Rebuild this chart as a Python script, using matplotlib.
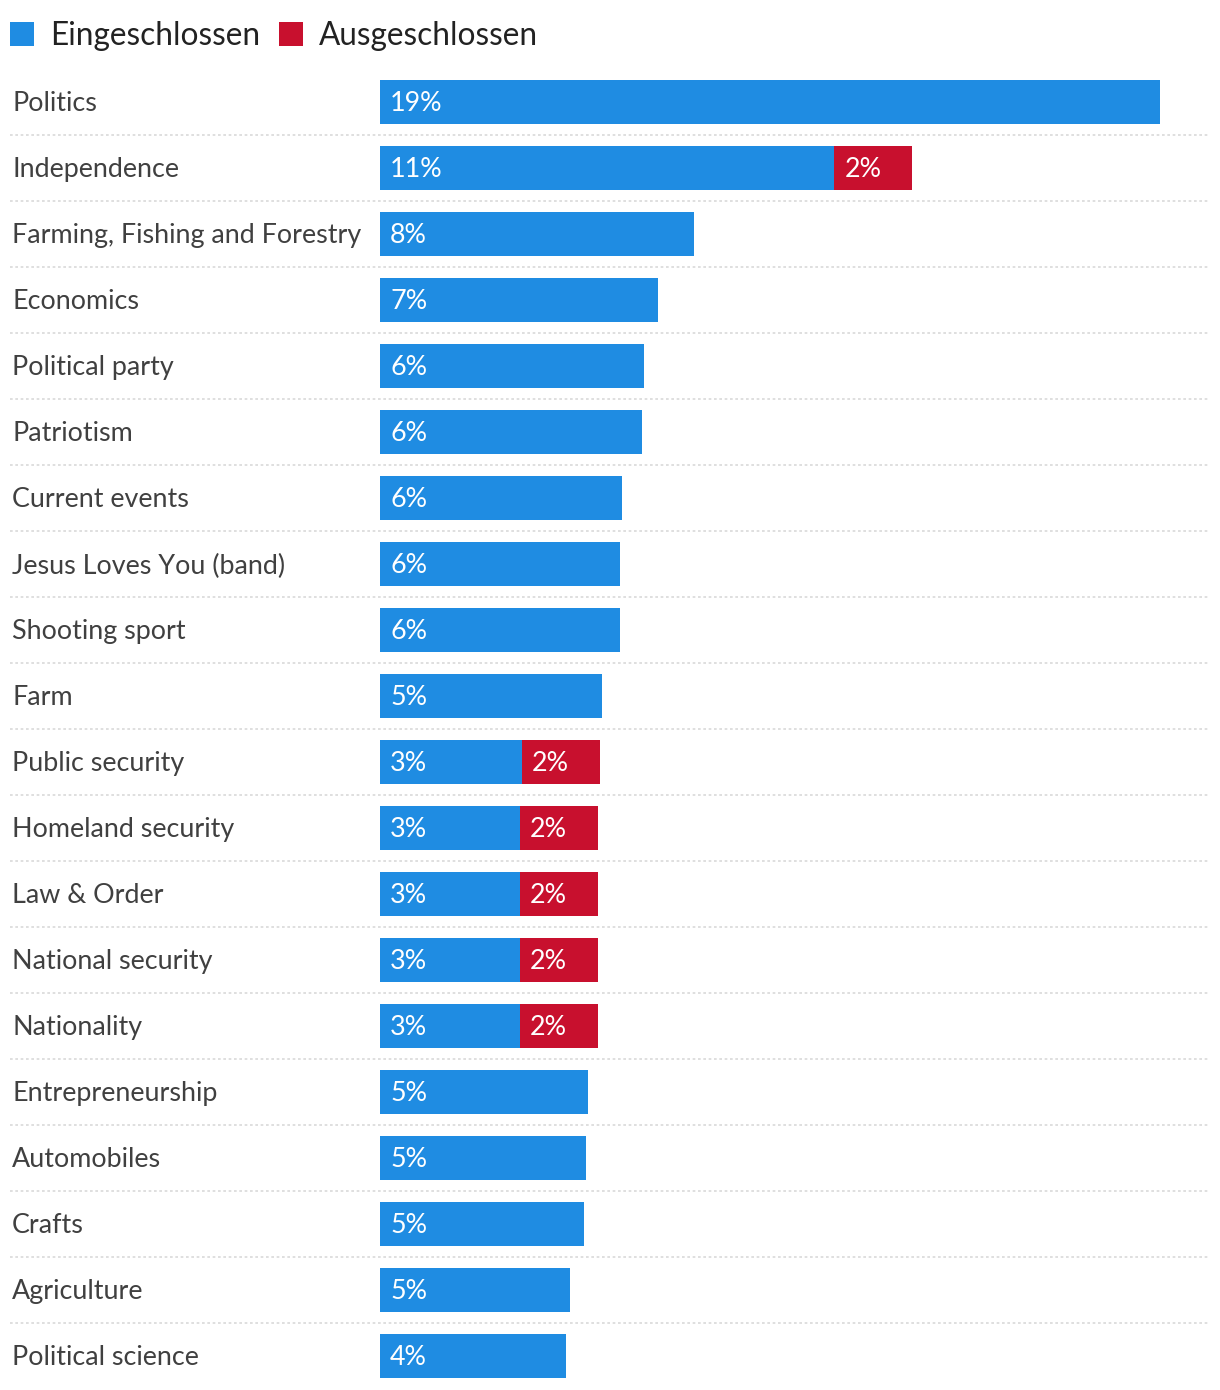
import matplotlib
matplotlib.use("Agg")
import matplotlib.pyplot as plt
import matplotlib.patches as patches
from matplotlib.transforms import blended_transform_factory

categories = ["Politics", "Independence", "Farming, Fishing and Forestry", "Economics",
              "Political party", "Patriotism", "Current events", "Jesus Loves You (band)",
              "Shooting sport", "Farm", "Public security", "Homeland security",
              "Law & Order", "National security", "Nationality", "Entrepreneurship",
              "Automobiles", "Crafts", "Agriculture", "Political science"]
eingeschlossen = [18.8, 10.95, 7.57, 6.70, 6.36, 6.31, 5.83, 5.78, 5.78, 5.35,
                  3.42, 3.37, 3.37, 3.37, 3.37, 5.01, 4.96, 4.92, 4.58, 4.48]
ausgeschlossen = [0, 1.88, 0, 0, 0, 0, 0, 0, 0, 0,
                  1.88, 1.88, 1.88, 1.88, 1.88, 0, 0, 0, 0, 0]
legend_labels = ["Eingeschlossen", "Ausgeschlossen"]

BLUE = "#1f8ce2"
RED = "#c8102e"
FONT = ["Lato", "DejaVu Sans"]
plt.rcParams["font.family"] = FONT

W, H = 1220, 1390
fig = plt.figure(figsize=(W / 100, H / 100), dpi=100)

# axes in pixel layout: bars start at x=380, 41.5 px per percent, rows of 66 px
x0, x1 = 380, 1208
top, row_h = 69, 66
n = len(categories)
ax = fig.add_axes([x0 / W, (H - top - n * row_h) / H, (x1 - x0) / W, n * row_h / H])
ax.set_xlim(0, (x1 - x0) / 41.5)
ax.set_ylim(n - 0.5, -0.5)
ax.axis("off")

ys = list(range(n))
ax.barh(ys, eingeschlossen, height=44 / row_h, color=BLUE, linewidth=0)
ax.barh(ys, ausgeschlossen, left=eingeschlossen, height=44 / row_h, color=RED, linewidth=0)

pad = 10 / 41.5
dy = 2 / row_h
trans = blended_transform_factory(fig.transFigure, ax.transData)
for i, (cat, a, b) in enumerate(zip(categories, eingeschlossen, ausgeschlossen)):
    fig.text(12 / W, i + dy, cat, transform=trans, va="center", ha="left",
             fontsize=19.4, color="#404040")
    ax.text(pad, i + dy, f"{round(a)}%", va="center", ha="left", fontsize=19.4, color="white")
    if b > 0:
        ax.text(a + pad, i + dy, f"{round(b)}%", va="center", ha="left", fontsize=19.4,
                color="white")
    if i < n - 1:
        ax.plot([10 / W, 1208 / W], [i + 0.5, i + 0.5], transform=trans, color="#d9d9d9",
                lw=1.2, linestyle=(0, (1.6, 1.6)), clip_on=False)

# legend
for x_sq, x_txt, col, lab in [(10, 50, BLUE, legend_labels[0]), (279, 319, RED, legend_labels[1])]:
    fig.add_artist(patches.Rectangle((x_sq / W, (H - 46) / H), 24 / W, 24 / H,
                                     transform=fig.transFigure, color=col, lw=0))
    fig.text(x_txt / W, (H - 36) / H, lab, va="center", ha="left", fontsize=22.7,
             color="#222222")

fig.savefig("out.png", dpi=100)
